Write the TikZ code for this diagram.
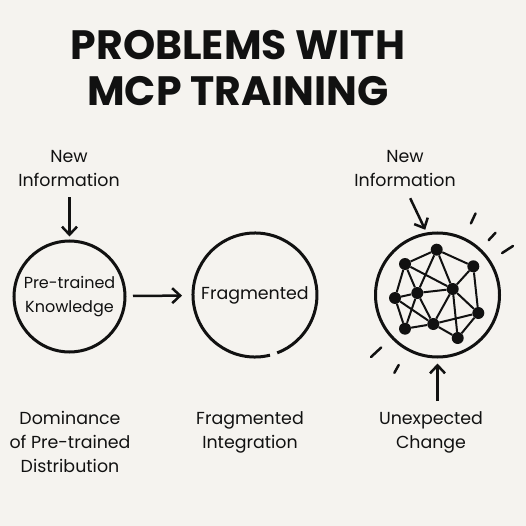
\documentclass[tikz,border=0pt]{standalone}
\usepackage{fontspec}
\setmainfont{Poppins}
\usetikzlibrary{arrows.meta, positioning}
\definecolor{cpaper}{HTML}{F5F3EF}
\definecolor{cink}{HTML}{111111}
\tikzset{
  ring/.style={circle, draw=cink, line width=3pt, minimum size=#1, inner sep=0pt},
  ring/.default=124pt,
  tag/.style={font=\fontsize{17.4}{24}\selectfont, text=cink, align=center, inner sep=0pt},
  inner/.style={font=\fontsize{16}{23.5}\selectfont, text=cink, align=center},
  title/.style={font=\fontsize{41}{46}\selectfont\bfseries, text=cink, align=center},
  arrow/.style={-{Straight Barb[length=8pt, width=15pt]}, draw=cink, line width=2.5pt},
  dot/.style={circle, fill=cink, minimum size=12pt, inner sep=0pt},
  link/.style={draw=cink, line width=2pt},
  ray/.style={draw=cink, line width=2.5pt, line cap=round},
}

\begin{document}
\begin{tikzpicture}[x=1pt, y=-1pt]
  \fill[cpaper] (0,0) rectangle (526,526);
  \useasboundingbox (0,0) rectangle (526,526);
  \node[title] (head) at (238,68) {PROBLEMS WITH\\MCP TRAINING};
  % pre-trained knowledge
  \node[ring=111pt, inner] (pre) at (69.5,296.5) {Pre-trained\\Knowledge};
  \node[tag] (newA) at (69,169) {New\\Information};
  \draw[arrow, shorten <=10pt, shorten >=3pt] (pre.north |- newA.south) -- (pre.north);
  % fragmented
  \node[ring, draw=none, tag] (frag) at (255,295) {Fragmented};
  \draw[cink, line width=3pt] (frag.center) ++(76:62) arc[start angle=76, end angle=429, radius=62];
  \draw[arrow, shorten <=6.5pt, shorten >=9.5pt] (pre) -- (frag);
  % network
  \node[ring] (net) at (437.5,295) {};
  \foreach \n/\x/\y in {1/436.7/249.7, 2/405/264, 3/473.3/266.3, 4/395/298, 5/417.3/293,
                        6/452.7/289, 7/478.3/313, 8/405/328.7, 9/433.3/324, 10/457.7/338}
    \node[dot] (n\n) at (\x,\y) {};
  \foreach \a/\b in {1/2, 1/3, 1/6, 1/5, 2/6, 2/4, 2/5, 3/6, 3/7, 4/5, 5/6, 4/8, 4/9,
                     5/8, 5/9, 6/9, 6/10, 6/7, 7/9, 7/10, 8/9, 9/10}
    \draw[link] (n\a) -- (n\b);
  \foreach \ang/\ri/\ro in {-65/79/90, -47/75/85, -33/77/90, 137/77/91, 119/80/89}
    \draw[ray] ([shift={(\ang:\ri)}]net.center) -- ([shift={(\ang:\ro)}]net.center);
  \node[tag] (newC) at (405,169) {New\\Information};
  \draw[arrow, shorten <=12pt, shorten >=3pt] (newC.south) -- (net.100);
  \node[tag] (unexp) at (431,432) {Unexpected\\Change};
  \draw[arrow, shorten <=10pt, shorten >=5pt] (net.south |- unexp.north) -- (net.south);
  % captions
  \node[tag] (domin) at (70,441.5) {Dominance\\of Pre-trained\\Distribution};
  \node[tag] (fragint) at (250,432) {Fragmented\\Integration};
\end{tikzpicture}
\end{document}
